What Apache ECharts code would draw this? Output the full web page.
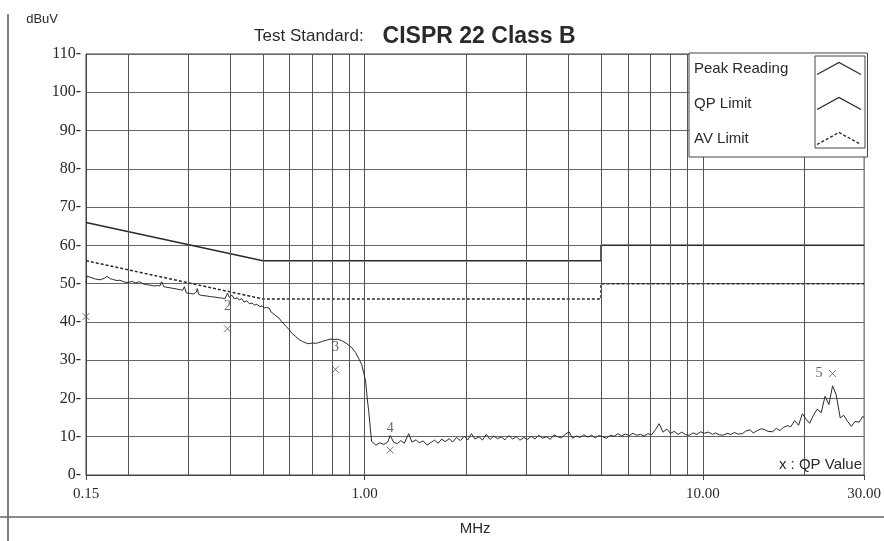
<!DOCTYPE html>
<html>
<head>
<meta charset="utf-8">
<script src="https://cdn.jsdelivr.net/npm/echarts@6/dist/echarts.min.js"></script>
<style>html,body{margin:0;padding:0;background:#fff;}#c{width:884px;height:541px;}</style>
</head>
<body>
<div id="c"></div>
<script>
// ---- data ----
const xTickValues = [0.15, 1, 10, 30];
const gridFreqs = [0.2,0.3,0.4,0.5,0.6,0.7,0.8,0.9,1,2,3,4,5,6,7,8,9,10,20];
const qpLimit = [[0.15,66],[0.5,56],[5,56],[5,60],[30,60]];
const avLimit = [[0.15,56],[0.5,46],[5,46],[5,50],[30,50]];
const qpValues = [[0.15,41.4],[0.393,38.2],[0.82,27.6],[1.19,6.5],[24.2,26.5]];
const qpLabels = ['', '2', '3', '4', '5'];
const peakFreq = [
0.150,0.151,0.155,0.160,0.165,0.170,0.173,0.177,0.180,0.185,0.189,0.195,0.200,0.205,0.210,0.216,0.222,0.228,0.232,0.238,
0.244,0.248,0.251,0.255,0.262,0.270,0.278,0.285,0.290,0.293,0.297,0.300,0.306,0.312,0.318,0.320,0.323,0.330,0.340,0.350,
0.360,0.372,0.380,0.386,0.393,0.398,0.405,0.412,0.420,0.426,0.433,0.440,0.448,0.456,0.465,0.472,0.480,0.490,0.498,0.505,
0.512,0.522,0.530,0.540,0.550,0.558,0.570,0.585,0.598,0.610,0.625,0.640,0.655,0.670,0.684,0.700,0.716,0.732,0.750,0.770,
0.790,0.800,0.815,0.830,0.856,0.880,0.900,0.916,0.940,0.960,0.980,0.995,1.007,1.018,1.028,1.040,1.049,
1.08,1.11,1.14,1.17,1.19,1.22,1.25,1.28,1.31,1.35,1.38,1.42,1.45,1.49,1.53,1.57,1.61,1.65,1.69,1.73,1.78,1.82,1.87,1.92,1.97,
2.02,2.07,2.12,2.18,2.23,2.29,2.35,2.41,2.47,2.54,2.60,2.67,2.74,2.81,2.88,2.96,3.03,3.11,3.19,3.27,3.36,3.45,3.54,3.63,3.72,
3.82,3.92,4.02,4.12,4.23,4.34,4.45,4.57,4.69,4.81,4.93,5.06,5.19,5.33,5.47,5.61,5.75,5.90,6.06,6.21,6.37,6.54,6.71,6.88,7.06,
7.25,7.43,7.63,7.83,8.03,8.24,8.45,8.67,8.90,9.13,9.37,9.61,9.86,10.1,10.4,10.7,10.9,11.2,11.5,11.8,12.1,12.4,12.7,13.1,13.4,
13.8,14.1,14.5,14.9,15.2,15.6,16.1,16.5,16.9,17.3,17.8,18.2,18.7,19.2,19.7,20.2,20.7,21.3,21.8,22.4,23.0,23.6,24.2,24.8,25.5,
26.1,26.8,27.5,28.2,29.0,29.7,30.0
];
const peakValue = [
50.2,52.0,51.6,51.2,51.0,51.4,51.9,51.3,51.1,50.8,50.9,50.4,50.3,50.6,50.2,50.5,49.9,49.7,49.6,49.4,
49.5,49.4,50.5,49.2,49.0,48.8,48.6,48.4,48.3,49.2,47.6,47.2,47.4,47.3,47.8,48.7,47.2,46.9,46.8,46.6,
46.5,46.3,46.2,46.0,47.5,46.4,47.0,46.0,46.3,45.7,46.1,45.2,45.5,44.8,44.9,44.4,44.6,44.0,44.2,43.6,
43.8,43.6,42.5,42.0,41.4,41.0,40.0,38.9,38.0,37.0,36.2,35.4,34.9,34.5,34.3,34.5,34.4,34.6,34.9,35.2,
35.5,35.6,35.4,35.5,35.1,34.5,33.8,33.3,32.0,30.5,28.9,26.5,24.5,20.0,16.8,12.0,8.8,
7.8,8.4,8.0,8.6,10.3,8.5,8.2,9.0,8.3,10.8,8.6,9.2,8.4,8.9,7.8,8.5,9.1,8.3,9.4,8.7,9.5,8.6,9.8,9.0,10.1,
9.2,10.8,9.4,10.0,9.1,10.6,9.3,10.2,9.5,9.9,9.2,10.3,9.4,10.0,9.1,9.8,9.3,10.1,9.4,10.4,9.6,10.0,9.3,10.5,10.0,
9.7,10.6,11.3,9.6,10.2,9.8,10.5,9.9,10.4,9.7,10.3,10.0,9.6,10.4,10.1,10.8,10.2,10.7,10.3,10.9,10.4,10.6,10.2,10.8,10.5,
11.9,13.4,11.2,12.0,10.9,11.4,10.6,11.2,10.5,10.4,11.0,10.6,11.3,10.9,11.2,10.6,11.0,10.5,10.4,10.9,10.6,11.1,10.7,10.8,11.5,
11.8,11.0,11.6,12.1,11.9,11.4,11.3,12.2,11.6,12.4,12.9,12.6,14.2,13.0,16.0,14.6,13.5,15.8,17.2,16.3,20.6,18.4,23.3,21.0,14.9,
15.6,14.0,12.7,14.0,13.8,15.3,15.0
];
const peakData = peakFreq.map((f, i) => [f, peakValue[i]]);

const ink = '#2a2a2a';
const chart = echarts.init(document.getElementById('c'));
chart.setOption({
  animation: false,
  backgroundColor: '#fff',
  title: {
    text: '{a|Test Standard:}{b|CISPR 22 Class B}',
    left: 249, top: 20,
    textStyle: {
      fontWeight: 'normal',
      rich: {
        a: { fontSize: 17, fontWeight: 'normal', fontFamily: 'Liberation Sans', color: ink },
        b: { fontSize: 23, fontWeight: 'bold', fontFamily: 'Liberation Sans', color: ink, padding: [0, 0, 0, 19] }
      }
    }
  },
  grid: { left: 86, right: 16, top: 54, bottom: 59, show: true, borderColor: '#444', borderWidth: 1 },
  legend: {
    orient: 'vertical', left: 689, top: 53, align: 'right', z: 20,
    padding: [7, 4, 10, 5], itemGap: 18,
    itemWidth: 44, itemHeight: 12,
    borderColor: '#444', borderWidth: 1, backgroundColor: '#fff',
    selectedMode: false,
    icon: 'path://M0,12 L22,0 L44,12',
    formatter: '{t|{name}}',
    textStyle: {
      fontSize: 15, fontFamily: 'Liberation Sans', color: ink,
      rich: { t: { width: 118, align: 'left', fontSize: 15, fontFamily: 'Liberation Sans', color: ink } }
    },
    data: [
      { name: 'Peak Reading', itemStyle: { color: 'none', borderColor: ink, borderWidth: 1.2 } },
      { name: 'QP Limit', itemStyle: { color: 'none', borderColor: ink, borderWidth: 1.4 } },
      { name: 'AV Limit', itemStyle: { color: 'none', borderColor: ink, borderWidth: 1.4, borderType: [3, 2] } }
    ]
  },
  xAxis: {
    type: 'log', logBase: 10, min: 0.15, max: 30,
    name: 'MHz', nameLocation: 'middle', nameGap: 46,
    nameTextStyle: { fontSize: 15, fontFamily: 'Liberation Sans', color: ink },
    axisLine: { lineStyle: { color: '#444' } },
    axisTick: { show: true, length: 5, customValues: xTickValues, lineStyle: { color: '#444' } },
    axisLabel: {
      customValues: xTickValues, margin: 12,
      fontSize: 15, fontFamily: 'Liberation Serif', color: ink,
      formatter: v => Number(v).toFixed(2)
    },
    splitLine: { show: false }
  },
  yAxis: {
    type: 'value', min: 0, max: 110, interval: 10,
    name: 'dBuV', nameLocation: 'end', nameGap: 28,
    nameTextStyle: { fontSize: 13, fontFamily: 'Liberation Sans', color: ink, align: 'right', padding: [0, 28, 0, 0] },
    axisLine: { show: true, lineStyle: { color: '#444' } },
    axisTick: { show: false },
    axisLabel: { margin: 5, fontSize: 16, fontFamily: 'Liberation Serif', color: ink, formatter: v => v + '-' },
    splitLine: { show: true, lineStyle: { color: '#666', width: 1 } }
  },
  graphic: [
    { type: 'line', shape: { x1: 8, y1: 14, x2: 8, y2: 541 }, style: { stroke: '#555', lineWidth: 1.5 } },
    { type: 'line', shape: { x1: 0, y1: 517, x2: 884, y2: 517 }, style: { stroke: '#666', lineWidth: 1.5 } },
    { type: 'rect', shape: { x: 815, y: 56, width: 50, height: 92 }, style: { fill: 'none', stroke: '#444', lineWidth: 1 }, z: 100 },
    { type: 'text', right: 22, top: 457, style: { text: 'x : QP Value', fontSize: 15, fontFamily: 'Liberation Sans', fill: ink }, z: 100 }
  ],
  series: [
    {
      name: 'Peak Reading', type: 'line', data: peakData, symbol: 'none',
      lineStyle: { color: ink, width: 1 }, z: 5,
      markLine: {
        silent: true, symbol: 'none', label: { show: false },
        lineStyle: { color: '#555', type: 'solid', width: 1 },
        data: gridFreqs.map(f => ({ xAxis: f }))
      }
    },
    { name: 'QP Limit', type: 'line', data: qpLimit, symbol: 'none', lineStyle: { color: ink, width: 1.5 }, z: 4 },
    { name: 'AV Limit', type: 'line', data: avLimit, symbol: 'none', lineStyle: { color: ink, width: 1.5, type: [3, 2] }, z: 4 },
    {
      name: 'QP Value', type: 'scatter', z: 6,
      data: qpValues.map((p, i) => ({
        value: p,
        label: { formatter: qpLabels[i], position: i === 4 ? 'left' : 'top', distance: i === 4 ? 4 : 9 }
      })),
      symbol: 'path://M0,0 L10,10 M10,0 L0,10', symbolSize: 7,
      itemStyle: { color: 'none', borderColor: '#555', borderWidth: 1 },
      label: { show: true, fontSize: 14, fontFamily: 'Liberation Serif', color: '#444' }
    }
  ]
});
</script>
</body>
</html>
